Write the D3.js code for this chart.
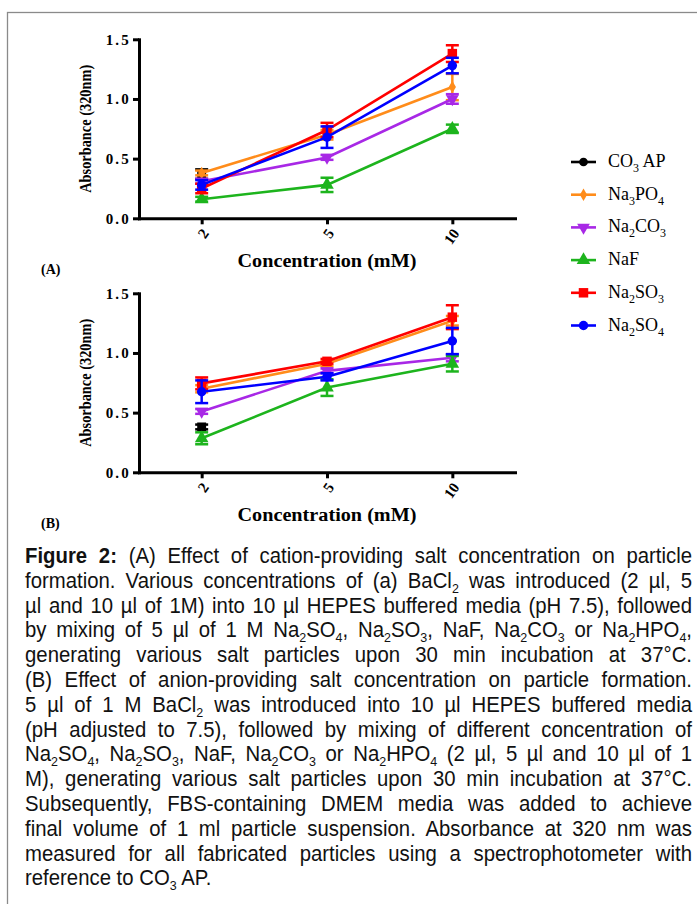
<!DOCTYPE html>
<html><head><meta charset="utf-8">
<script src="https://cdn.jsdelivr.net/npm/d3@7"></script>
<style>
html,body{margin:0;padding:0;background:#fff;}
svg{display:block;}
</style></head>
<body>
<svg id="chart" width="697" height="904"></svg>
<script>
// ---------- data ----------
const concentrations = ["2", "5", "10"];
const seriesNames = ["CO{3} AP", "Na{3}PO{4}", "Na{2}CO{3}", "NaF", "Na{2}SO{3}", "Na{2}SO{4}"];
const seriesColors = ["#000000", "#ff8c1a", "#a828e6", "#1db41d", "#ff0000", "#0000ff"];
const yTicks = [0, 0.5, 1.0, 1.5];

// Panel A: cation-providing salt concentration
const a_CO3AP = [0.37, null, null],  a_CO3AP_err = [0.04, null, null];
const a_Na3PO4 = [0.38, 0.70, 1.10], a_Na3PO4_err = [0.02, 0.04, 0.11];
const a_Na2CO3 = [0.31, 0.51, 1.00], a_Na2CO3_err = [0.02, 0.02, 0.04];
const a_NaF = [0.16, 0.28, 0.75],    a_NaF_err = [0.02, 0.06, 0.035];
const a_Na2SO3 = [0.25, 0.74, 1.38], a_Na2SO3_err = [0.04, 0.06, 0.07];
const a_Na2SO4 = [0.28, 0.68, 1.28], a_Na2SO4_err = [0.04, 0.09, 0.065];

// Panel B: anion-providing salt concentration
const b_CO3AP = [0.38, null, null],  b_CO3AP_err = [0.02, null, null];
const b_Na3PO4 = [0.70, 0.91, 1.27], b_Na3PO4_err = [0.03, 0.02, 0.04];
const b_Na2CO3 = [0.51, 0.85, 0.96], b_Na2CO3_err = [0.02, 0.02, 0.03];
const b_NaF = [0.285, 0.71, 0.91],   b_NaF_err = [0.05, 0.07, 0.065];
const b_Na2SO3 = [0.745, 0.93, 1.30], b_Na2SO3_err = [0.05, 0.02, 0.10];
const b_Na2SO4 = [0.675, 0.80, 1.10], b_Na2SO4_err = [0.095, 0.03, 0.11];

const captionLines = [
  "**Figure 2:** (A) Effect of cation-providing salt concentration on particle",
  "formation. Various concentrations of (a) BaCl{2} was introduced (2 µl, 5",
  "µl and 10 µl of 1M) into 10 µl HEPES buffered media (pH 7.5), followed",
  "by mixing of 5 µl of 1 M Na{2}SO{4}, Na{2}SO{3}, NaF, Na{2}CO{3} or Na{2}HPO{4},",
  "generating various salt particles upon 30 min incubation at 37°C.",
  "(B) Effect of anion-providing salt concentration on particle formation.",
  "5 µl of 1 M BaCl{2} was introduced into 10 µl HEPES buffered media",
  "(pH adjusted to 7.5), followed by mixing of different concentration of",
  "Na{2}SO{4}, Na{2}SO{3}, NaF, Na{2}CO{3} or Na{2}HPO{4} (2 µl, 5 µl and 10 µl of 1",
  "M), generating various salt particles upon 30 min incubation at 37°C.",
  "Subsequently, FBS-containing DMEM media was added to achieve",
  "final volume of 1 ml particle suspension. Absorbance at 320 nm was",
  "measured for all fabricated particles using a spectrophotometer with",
  "reference to CO{3} AP."
];

// ---------- drawing ----------
const svg = d3.select("#chart");
const SERIF = "'Liberation Serif','Times New Roman',serif";

svg.append("rect").attr("x", 7.5).attr("y", 12.5).attr("width", 800).attr("height", 1000)
  .attr("fill", "none").attr("stroke", "#8a8a8a").attr("stroke-width", 1.3);

function symbolFor(i, legend) {
  const types = [legend ? d3.symbolCircle : d3.symbolSquare, d3.symbolDiamond, d3.symbolTriangle,
                 d3.symbolTriangle, d3.symbolSquare, d3.symbolCircle];
  const sizes = [legend ? 60 : 80, 45, 70, 80, 90, 70];
  return d3.symbol().type(types[i]).size(sizes[i])();
}
function symbolRot(i) { return i === 2 ? 180 : 0; }

function richText(sel, str, subSize, subDy) {
  const parts = str.split(/(\*\*.+?\*\*|\{.+?\})/).filter(s => s.length);
  let shifted = false;
  parts.forEach(p => {
    const t = sel.append("tspan");
    if (p.startsWith("{")) {
      t.text(p.slice(1, -1)).attr("font-size", subSize).attr("dy", shifted ? 0 : subDy);
      shifted = true;
    } else {
      if (shifted) { t.attr("dy", -subDy); shifted = false; }
      if (p.startsWith("**")) { t.text(p.slice(2, -2)).attr("font-weight", "bold"); }
      else t.text(p);
    }
  });
}

function drawPanel(top, vals, errs, tag) {
  const g = svg.append("g");
  const x = d3.scalePoint().domain(concentrations).range([139, 515]).padding(0.5);
  const y = d3.scaleLinear().domain([0, 1.5]).range([top + 179, top]);

  vals.forEach((v, si) => {
    const col = seriesColors[si];
    const sg = g.append("g");
    const pts = v.map((d, i) => ({c: concentrations[i], v: d, e: errs[si][i]})).filter(p => p.v != null);
    if (pts.length > 1) {
      sg.append("path").datum(pts)
        .attr("d", d3.line().x(p => x(p.c)).y(p => y(p.v)))
        .attr("fill", "none").attr("stroke", col).attr("stroke-width", 2.6);
    }
    pts.forEach(p => {
      const cx = x(p.c), y1 = y(p.v + p.e), y2 = y(p.v - p.e);
      sg.append("line").attr("x1", cx).attr("x2", cx).attr("y1", y1).attr("y2", y2)
        .attr("stroke", col).attr("stroke-width", 2.5);
      [y1, y2].forEach(yy => sg.append("line").attr("x1", cx - 6.5).attr("x2", cx + 6.5)
        .attr("y1", yy).attr("y2", yy).attr("stroke", col).attr("stroke-width", 2.5));
      sg.append("path").attr("d", symbolFor(si, false))
        .attr("transform", `translate(${cx},${y(p.v)}) rotate(${symbolRot(si)})`)
        .attr("fill", col);
    });
  });

  const ya = g.append("g").attr("transform", "translate(139,0)")
    .call(d3.axisLeft(y).tickValues(yTicks).tickFormat(d3.format(".1f")).tickSize(6).tickSizeOuter(0).tickPadding(2));
  const xa = g.append("g").attr("transform", `translate(0,${top + 179})`)
    .call(d3.axisBottom(x).tickSize(6).tickSizeOuter(0));
  [ya, xa].forEach(a => {
    a.select(".domain").attr("stroke", "#000").attr("stroke-width", 3).attr("stroke-linecap", "square");
    a.selectAll(".tick line").attr("stroke", "#000").attr("stroke-width", 3);
    a.selectAll("text").attr("font-family", SERIF).attr("font-weight", "bold").attr("fill", "#000");
  });
  ya.selectAll("text").attr("font-size", 15).attr("letter-spacing", 2.2);
  xa.selectAll("text").attr("font-size", 15).attr("y", 0).attr("dy", "0.35em")
    .attr("text-anchor", "end").attr("transform", "translate(3,12) rotate(-55)");

  g.append("text").attr("transform", `translate(91,${top + 89.5}) rotate(-90)`)
    .attr("text-anchor", "middle").attr("font-family", SERIF).attr("font-weight", "bold")
    .attr("font-size", 17).attr("textLength", 128).attr("lengthAdjust", "spacingAndGlyphs")
    .text("Absorbance (320nm)");
  g.append("text").attr("x", 327).attr("y", top + 228).attr("text-anchor", "middle")
    .attr("font-family", SERIF).attr("font-weight", "bold").attr("font-size", 18.5)
    .attr("textLength", 179).attr("lengthAdjust", "spacingAndGlyphs")
    .text("Concentration (mM)");
  g.append("text").attr("x", 41).attr("y", top + 235).attr("font-family", SERIF)
    .attr("font-weight", "bold").attr("font-size", 14).text(tag);
}

drawPanel(39.3,
  [a_CO3AP, a_Na3PO4, a_Na2CO3, a_NaF, a_Na2SO3, a_Na2SO4],
  [a_CO3AP_err, a_Na3PO4_err, a_Na2CO3_err, a_NaF_err, a_Na2SO3_err, a_Na2SO4_err], "(A)");
drawPanel(293.3,
  [b_CO3AP, b_Na3PO4, b_Na2CO3, b_NaF, b_Na2SO3, b_Na2SO4],
  [b_CO3AP_err, b_Na3PO4_err, b_Na2CO3_err, b_NaF_err, b_Na2SO3_err, b_Na2SO4_err], "(B)");

// legend
const lg = svg.append("g");
seriesNames.forEach((name, i) => {
  const yy = 162 + i * 32.7;
  lg.append("line").attr("x1", 571).attr("x2", 596).attr("y1", yy).attr("y2", yy)
    .attr("stroke", seriesColors[i]).attr("stroke-width", 2.6);
  lg.append("path").attr("d", symbolFor(i, true))
    .attr("transform", `translate(583.5,${yy}) rotate(${symbolRot(i)})`).attr("fill", seriesColors[i]);
  const t = lg.append("text").attr("x", 608).attr("y", yy + 5).attr("font-family", SERIF)
    .attr("font-size", 18).attr("fill", "#000");
  richText(t, name, 12, 5);
});

// caption (justified lines)
const capLeft = 25, capRight = 692, capFont = 22, sx = 0.925;
const capFam = "'Liberation Sans',Arial,sans-serif";
captionLines.forEach((line, i) => {
  const by = 563 + i * 24.8;
  const t = svg.append("text").attr("font-family", capFam).attr("font-size", capFont)
    .attr("fill", "#111").attr("transform", `translate(${capLeft},${by}) scale(${sx},1)`);
  richText(t, line, 13.5, 5);
  if (i < captionLines.length - 1) {
    const w = t.node().getComputedTextLength();
    const nSpaces = (line.match(/ /g) || []).length;
    const extra = ((capRight - capLeft) / sx - w) / nSpaces;
    t.attr("word-spacing", extra);
  }
});
</script>
</body></html>
